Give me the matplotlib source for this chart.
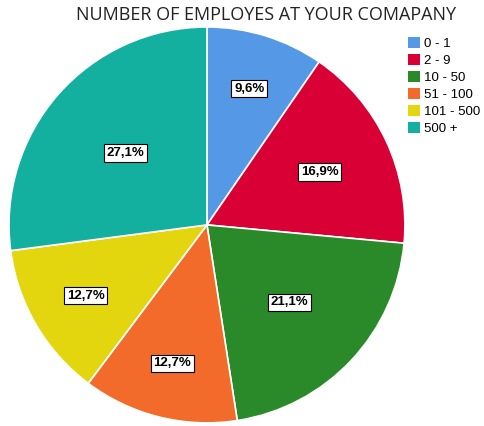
import matplotlib
matplotlib.use('Agg')
import matplotlib.pyplot as plt
import numpy as np

# data
categories = ['0 - 1', '2 - 9', '10 - 50', '51 - 100', '101 - 500', '500 +']
shares = [9.6, 16.9, 21.1, 12.7, 12.7, 27.1]
colors = ['#5599e6', '#d90036', '#2a8a2a', '#f26b2a', '#e3d60f', '#13b0a0']
# how far out each label sits (fraction of radius)
label_dist = [0.72, 0.63, 0.57, 0.72, 0.71, 0.55]

fig = plt.figure(figsize=(4.84, 4.26), dpi=100)
ax = fig.add_axes([0.0186, 0.007, 0.818, 0.93])

wedges, texts, autotexts = ax.pie(
    shares, colors=colors, startangle=90, counterclock=False,
    autopct=lambda p: '', wedgeprops=dict(edgecolor='white', linewidth=1.2))

for w, t, d, val in zip(wedges, autotexts, label_dist, shares):
    ang = np.deg2rad((w.theta1 + w.theta2) / 2)
    t.set_position((d * np.cos(ang), d * np.sin(ang)))
    t.set_text(f'{val:.1f}%'.replace('.', ','))
    t.set_fontsize(9.5)
    t.set_fontweight('bold')
    t.set_fontfamily('Liberation Sans')
    t.set_bbox(dict(boxstyle='square,pad=0.2', facecolor='white',
                    edgecolor='black', linewidth=0.8))
ax.set_xlim(-1, 1)
ax.set_ylim(-1, 1)
ax.set_aspect('equal')

fig.text(0.55, 0.965, 'NUMBER OF EMPLOYES AT YOUR COMAPANY', ha='center',
         va='center', fontsize=13, family='Open Sans', color='#222222')

leg = fig.legend(wedges, categories, loc='upper left',
                 bbox_to_anchor=(0.832, 0.925), frameon=False,
                 fontsize=9, handlelength=0.9, handleheight=0.9,
                 handletextpad=0.3, labelspacing=0.3, borderaxespad=0,
                 prop={'family': 'Liberation Sans', 'size': 9.5})
for h in leg.legend_handles:
    h.set_edgecolor('none')

fig.savefig('out.png', dpi=100)
